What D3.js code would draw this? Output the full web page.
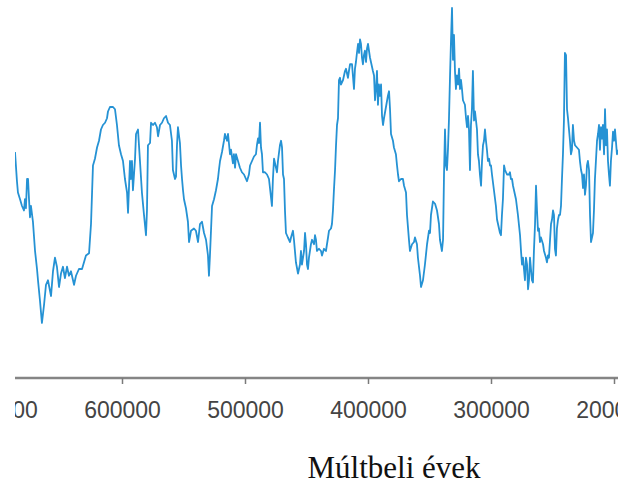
<!DOCTYPE html>
<html>
<head>
<meta charset="utf-8">
<script src="https://cdn.jsdelivr.net/npm/d3@7"></script>
<style>
  html, body { margin: 0; padding: 0; background: #fff; }
  #chart { width: 618px; height: 486px; }
</style>
</head>
<body>
<div id="chart"></div>
<script>
// years before present, in thousands (ka)
const yearsKa = [
  687.0, 685.4, 684.6, 682.9, 681.3, 679.7, 678.9, 678.1, 677.2, 676.4,
  675.6, 674.8, 674.0, 672.4, 670.7, 669.1, 668.3, 666.7, 665.1, 663.4,
  661.8, 660.2, 657.7, 656.1, 654.5, 652.9, 651.2, 649.6, 648.0, 646.4,
  644.7, 643.1, 641.5, 639.0, 637.4, 635.0, 632.5, 630.9, 629.3, 626.8,
  625.2, 624.4, 623.6, 622.0, 620.3, 618.7, 617.1, 615.5, 613.8, 612.2,
  611.4, 609.8, 607.3, 605.7, 604.1, 602.5, 600.8, 599.2, 597.6, 595.9,
  595.1, 593.5, 592.7, 591.9, 591.1, 589.4, 588.6, 587.0, 585.4, 583.8,
  582.1, 580.5, 579.7, 578.9, 577.2, 576.4, 574.8, 573.2, 571.6, 570.7,
  569.1, 567.5, 565.9, 564.2, 562.6, 561.0, 559.4, 558.6, 556.9, 556.1,
  555.3, 554.5, 552.9, 552.0, 551.2, 550.4, 549.6, 548.0, 546.4, 545.5,
  543.9, 541.5, 539.9, 538.2, 536.6, 535.0, 533.3, 531.7, 530.1, 529.3,
  528.5, 526.8, 525.2, 523.6, 522.0, 521.2, 520.3, 518.7, 517.1, 516.3,
  514.6, 513.8, 512.2, 511.4, 509.8, 509.0, 508.1, 507.3, 505.7, 504.1,
  502.5, 500.8, 499.2, 498.4, 496.8, 495.9, 494.3, 492.7, 491.1, 490.3,
  489.4, 488.6, 487.8, 487.0, 486.2, 485.4, 483.8, 482.1, 480.5, 479.7,
  478.1, 477.3, 476.4, 474.8, 474.0, 473.2, 471.6, 470.7, 469.9, 469.1,
  468.3, 467.5, 466.7, 465.1, 463.4, 462.6, 461.0, 460.2, 459.4, 458.6,
  456.9, 455.3, 454.5, 453.7, 452.0, 451.2, 450.4, 449.6, 448.8, 448.0,
  446.4, 445.5, 443.9, 443.1, 442.3, 441.5, 439.9, 438.2, 437.4, 435.8,
  434.2, 432.5, 431.7, 430.1, 429.3, 428.5, 427.7, 426.8, 426.0, 425.2,
  424.4, 423.6, 422.8, 422.0, 420.3, 418.7, 417.9, 416.3, 415.5, 414.6,
  413.0, 411.4, 410.6, 409.8, 409.0, 408.1, 407.3, 406.5, 405.7, 404.9,
  404.1, 403.3, 402.5, 401.6, 400.8, 400.0, 399.2, 398.4, 397.6, 396.0,
  395.1, 394.3, 393.5, 392.7, 391.9, 391.1, 390.3, 389.4, 388.6, 387.8,
  387.0, 385.4, 383.8, 382.9, 382.1, 381.3, 379.7, 378.9, 377.3, 376.4,
  375.6, 374.8, 373.2, 371.6, 370.7, 369.1, 368.3, 366.7, 365.9, 364.2,
  362.6, 361.8, 360.2, 359.4, 357.7, 356.9, 355.3, 353.7, 352.0, 350.4,
  349.6, 348.8, 347.2, 345.5, 343.9, 342.3, 341.5, 339.9, 339.0, 338.2,
  337.4, 336.6, 335.8, 335.0, 334.2, 333.3, 332.5, 331.7, 330.9, 330.1,
  329.3, 328.5, 327.7, 326.8, 326.0, 325.2, 324.4, 323.6, 322.8, 321.2,
  320.3, 319.5, 318.7, 317.9, 317.1, 316.3, 315.5, 314.7, 313.8, 313.0,
  312.2, 311.4, 310.6, 309.8, 309.0, 308.1, 307.3, 306.5, 305.7, 304.9,
  304.1, 303.3, 302.5, 301.6, 300.8, 300.0, 299.2, 297.6, 296.0, 295.1,
  294.3, 292.7, 291.9, 291.1, 290.3, 289.4, 288.6, 287.0, 285.4, 284.6,
  283.8, 282.9, 282.1, 281.3, 279.7, 278.1, 276.4, 275.6, 274.8, 274.0,
  273.2, 272.4, 271.6, 270.7, 269.9, 269.1, 268.3, 267.5, 266.7, 265.9,
  265.1, 264.2, 263.4, 262.6, 261.8, 261.0, 260.2, 259.4, 257.7, 256.9,
  255.3, 254.5, 253.7, 252.9, 252.0, 251.2, 250.4, 249.6, 248.8, 248.0,
  247.2, 246.4, 245.5, 244.7, 243.9, 243.1, 242.3, 241.5, 240.7, 239.9,
  239.0, 238.2, 237.4, 236.6, 235.8, 235.0, 234.2, 233.4, 232.5, 231.7,
  230.1, 228.5, 227.7, 226.8, 226.0, 225.2, 224.4, 223.6, 222.8, 222.0,
  221.2, 220.3, 219.5, 218.7, 217.9, 217.1, 216.3, 215.5, 214.7, 213.8,
  213.0, 212.2, 211.4, 210.6, 209.8, 209.0, 208.1, 207.3, 206.5, 205.7,
  204.9, 204.1, 203.3, 202.5, 201.6, 200.8, 200.0, 199.2, 197.6, 196.8
]

// temperature anomaly (°C), one value per entry of yearsKa
const tempAnomaly = [
  -2.4, -3.7, -4.2, -4.5, -4.8, -5.0, -4.5, -4.9, -3.6, -3.6,
  -4.5, -5.3, -4.8, -5.5, -6.8, -7.6, -8.1, -9.0, -10.0, -9.2,
  -8.3, -8.1, -8.8, -7.7, -7.1, -7.5, -8.4, -7.8, -7.5, -8.0,
  -7.5, -7.9, -7.7, -8.3, -7.9, -7.6, -7.6, -7.3, -7.0, -6.9,
  -5.6, -4.3, -3.0, -2.7, -2.2, -1.9, -1.4, -1.2, -1.1, -0.9,
  -0.6, -0.4, -0.4, -0.5, -1.2, -2.1, -2.5, -2.8, -3.6, -4.2,
  -5.1, -2.8, -3.6, -2.8, -4.1, -2.7, -1.6, -1.4, -2.8, -4.2,
  -5.2, -6.1, -5.0, -2.1, -2.0, -1.1, -1.2, -1.1, -1.3, -1.7,
  -1.2, -1.1, -0.9, -0.8, -1.1, -1.2, -1.9, -3.2, -3.6, -3.5,
  -2.1, -1.3, -2.0, -3.0, -3.6, -4.1, -4.5, -4.9, -5.5, -6.4,
  -5.9, -5.8, -5.9, -6.4, -5.6, -5.5, -6.0, -6.3, -7.0, -7.9,
  -7.0, -4.8, -4.5, -4.1, -3.6, -3.2, -2.8, -2.4, -1.9, -1.6,
  -1.9, -1.6, -2.5, -2.3, -2.9, -2.5, -3.1, -2.5, -2.8, -3.1,
  -3.3, -3.4, -3.6, -3.7, -3.4, -3.0, -2.8, -2.6, -2.5, -2.1,
  -1.8, -2.0, -1.1, -2.2, -2.5, -3.3, -3.3, -3.4, -3.6, -4.0,
  -4.8, -3.6, -2.7, -3.1, -3.3, -2.8, -2.1, -1.9, -2.2, -3.4,
  -3.6, -5.0, -6.0, -6.2, -6.4, -6.2, -5.9, -6.3, -6.8, -7.3,
  -7.8, -7.4, -6.8, -7.4, -6.8, -6.0, -6.5, -7.4, -7.6, -7.1,
  -6.5, -6.3, -6.5, -6.1, -6.3, -6.8, -6.7, -6.8, -7.0, -6.7,
  -6.8, -6.2, -5.9, -5.8, -5.6, -5.0, -4.1, -3.2, -2.1, -1.2,
  -0.9, 0.8, 0.9, 0.6, 0.8, 1.2, 1.3, 0.9, 1.2, 1.5,
  1.5, 0.4, 1.3, 1.6, 2.0, 2.4, 2.0, 2.6, 2.4, 1.8,
  1.5, 1.9, 2.1, 1.6, 2.2, 2.4, 2.1, 1.8, 1.6, 1.2,
  1.0, -0.1, 0.4, 1.2, -0.3, 0.6, 0.1, 0.6, -0.8, -1.2,
  -0.9, -0.4, 0.1, 0.3, -0.5, -1.6, -1.9, -2.2, -2.5, -3.0,
  -3.4, -3.7, -3.6, -3.6, -3.9, -4.2, -5.2, -6.3, -6.8, -6.5,
  -6.4, -6.2, -6.5, -7.1, -7.9, -8.4, -8.1, -7.4, -6.5, -5.9,
  -6.0, -5.2, -4.6, -4.7, -5.0, -5.6, -6.3, -6.8, -6.3, -3.4,
  -1.4, -3.0, -3.2, -2.3, -1.0, 1.0, 2.6, 4.0, 1.7, 2.8,
  1.2, 0.4, 1.0, 0.6, 1.3, 0.4, 0.8, 0.4, -0.1, -0.3,
  -0.9, -1.3, -0.8, -1.4, -3.2, -1.2, -0.5, 1.2, -1.0, -0.6,
  -1.0, -1.4, -2.5, -2.8, -3.4, -3.9, -2.8, -2.1, -1.9, -1.4,
  -1.9, -2.3, -2.8, -2.7, -3.0, -3.0, -3.4, -4.1, -4.8, -5.4,
  -5.6, -6.0, -6.1, -5.2, -4.5, -3.0, -3.2, -3.4, -3.4, -3.3,
  -3.6, -3.6, -3.9, -4.1, -4.5, -5.2, -6.1, -6.8, -7.4, -7.1,
  -7.6, -8.1, -7.1, -7.4, -8.5, -8.1, -7.1, -7.6, -8.1, -8.2,
  -6.8, -5.6, -3.9, -5.0, -5.9, -5.8, -6.4, -6.2, -6.5, -6.8,
  -7.1, -7.3, -7.0, -7.1, -6.3, -5.6, -5.4, -5.0, -5.2, -6.7,
  -7.0, -5.8, -5.4, -5.2, -5.2, -4.8, -3.6, -2.5, -1.0, 2.0,
  1.9, -0.5, -0.9, -1.4, -1.9, -2.5, -2.3, -1.2, -1.9, -2.1,
  -2.2, -2.3, -2.8, -3.2, -3.4, -4.0, -3.4, -4.3, -3.9, -3.0,
  -2.8, -3.2, -5.2, -6.4, -6.2, -6.0, -5.0, -3.6, -2.8, -1.9,
  -1.6, -1.2, -2.3, -1.3, -1.8, -1.2, -2.5, -0.5, -2.1, -1.4,
  -2.8, -3.4, -3.9, -2.8, -2.2, -1.5, -1.9, -1.4, -2.5, -2.3
]

const tickKa = [700, 600, 500, 400, 300, 200]
const tickLabels = ['700000', '600000', '500000', '400000', '300000', '200000']
const xTitle = 'Múltbeli évek'

const WIDTH = 618
const HEIGHT = 486
const AXIS_Y = 378
const VIEW_LEFT = 15

const data = yearsKa.map((ka, i) => ({ ka, t: tempAnomaly[i] }))

const svg = d3.select('#chart').append('svg')
  .attr('width', WIDTH)
  .attr('height', HEIGHT)

// the original figure is cropped on its left side
svg.append('clipPath')
  .attr('id', 'crop')
  .append('rect')
  .attr('x', VIEW_LEFT)
  .attr('y', 0)
  .attr('width', WIDTH - VIEW_LEFT)
  .attr('height', HEIGHT)

const root = svg.append('g').attr('clip-path', 'url(#crop)')

// older years on the left
const x = d3.scaleLinear()
  .domain([700, 200])
  .range([-1, 614])

const y = d3.scaleLinear()
  .domain([-10, 4])
  .range([323, 8])

const line = d3.line()
  .x(d => x(d.ka))
  .y(d => y(d.t))

root.append('path')
  .datum(data)
  .attr('fill', 'none')
  .attr('stroke', '#2592d4')
  .attr('stroke-width', 1.8)
  .attr('stroke-linejoin', 'round')
  .attr('d', line)

// X axis
const axis = root.append('g')
  .attr('transform', `translate(0,${AXIS_Y})`)
  .call(d3.axisBottom(x)
    .tickValues(tickKa)
    .tickFormat((d, i) => tickLabels[i])
    .tickSizeInner(6)
    .tickSizeOuter(0)
    .tickPadding(18))

axis.select('.domain')
  .attr('d', `M${VIEW_LEFT},0H${WIDTH}`)
  .attr('stroke', '#858585')
  .attr('stroke-width', 2.5)

axis.selectAll('.tick line')
  .attr('stroke', '#7a7a7a')
  .attr('stroke-width', 1.5)

axis.selectAll('.tick text')
  .attr('fill', '#444')
  .style('font-family', '"Liberation Sans", Arial, sans-serif')
  .style('font-size', '23px')

// Title
svg.append('text')
  .attr('x', 394)
  .attr('y', 478)
  .attr('text-anchor', 'middle')
  .attr('fill', '#111')
  .style('font-family', '"Liberation Serif", "Times New Roman", serif')
  .style('font-size', '31px')
  .text(xTitle)
</script>
</body>
</html>
